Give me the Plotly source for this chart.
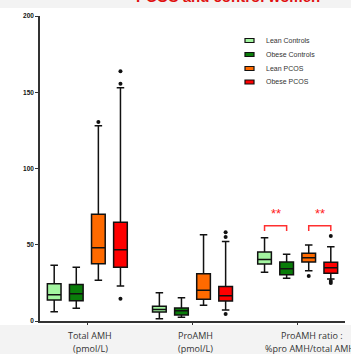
import plotly.graph_objects as go

# groups on the x axis
groups_top = ["Total AMH", "ProAMH", "ProAMH ratio :"]
groups_bottom = ["(pmol/L)", "(pmol/L)", "%pro AMH/total AMH"]

series = ["Lean Controls", "Obese Controls", "Lean PCOS", "Obese PCOS"]
colors = ["#a3f5a0", "#0a7d0a", "#ff6a00", "#ff0000"]

# box stats per series: one value per group (Total AMH, ProAMH, ratio)
lean_ctrl_q1 = [13.8, 5.9, 37.4]
lean_ctrl_med = [17.2, 7.5, 40.4]
lean_ctrl_q3 = [24.5, 9.6, 45.2]
lean_ctrl_lo = [6.1, 1.5, 31.9]
lean_ctrl_hi = [36.5, 18.6, 54.6]

obese_ctrl_q1 = [13.3, 3.9, 30.4]
obese_ctrl_med = [17.9, 6.8, 34.3]
obese_ctrl_q3 = [24.0, 8.5, 38.7]
obese_ctrl_lo = [8.3, 2.4, 28.0]
obese_ctrl_hi = [35.2, 15.3, 43.7]

lean_pcos_q1 = [37.6, 14.2, 38.7]
lean_pcos_med = [48.1, 20.1, 41.5]
lean_pcos_q3 = [70.0, 31.0, 44.4]
lean_pcos_lo = [26.7, 10.3, 33.0]
lean_pcos_hi = [128.1, 56.6, 49.8]

obese_pcos_q1 = [35.2, 13.1, 31.3]
obese_pcos_med = [46.8, 16.6, 35.0]
obese_pcos_q3 = [64.7, 22.7, 38.5]
obese_pcos_lo = [23.0, 7.2, 27.5]
obese_pcos_hi = [153.0, 52.2, 48.7]

# outliers: (group index, value)
lean_ctrl_out = []
obese_ctrl_out = []
lean_pcos_out = [(0, 130.5), (2, 29.5)]
obese_pcos_out = [(0, 155.6), (0, 163.7), (0, 14.6), (1, 55.1), (1, 58.2), (1, 4.6),
                  (2, 55.7), (2, 26.2), (2, 25.0)]

# significance marks in the ratio group (pairs of series)
sig_pairs = [(0, 1), (2, 3)]
sig_text = ["**", "**"]
sig_y = 62.5

stats = [
    (lean_ctrl_q1, lean_ctrl_med, lean_ctrl_q3, lean_ctrl_lo, lean_ctrl_hi, lean_ctrl_out),
    (obese_ctrl_q1, obese_ctrl_med, obese_ctrl_q3, obese_ctrl_lo, obese_ctrl_hi, obese_ctrl_out),
    (lean_pcos_q1, lean_pcos_med, lean_pcos_q3, lean_pcos_lo, lean_pcos_hi, lean_pcos_out),
    (obese_pcos_q1, obese_pcos_med, obese_pcos_q3, obese_pcos_lo, obese_pcos_hi, obese_pcos_out),
]

step = 0.21
def pos(g, s):
    return g + (s - 1.5) * step

fig = go.Figure()
for s, (q1, med, q3, lo, hi, out) in enumerate(stats):
    fig.add_trace(go.Box(
        x=[pos(g, s) for g in range(3)],
        q1=q1, median=med, q3=q3, lowerfence=lo, upperfence=hi,
        fillcolor=colors[s], line=dict(color="#111", width=1.5),
        width=0.13, whiskerwidth=0.55, name=series[s], showlegend=False,
        hoverinfo="skip",
    ))
    if out:
        fig.add_trace(go.Scatter(
            x=[pos(g, s) for g, v in out], y=[v for g, v in out],
            mode="markers", marker=dict(color="#111", size=4),
            showlegend=False, hoverinfo="skip",
        ))

shapes = []
annotations = []

# white panel over grey page
shapes.append(dict(type="rect", xref="paper", yref="paper", x0=-0.2, x1=1.1,
                   y0=-0.013, y1=1.026, fillcolor="white", line=dict(width=0),
                   layer="below"))

# significance brackets
for (a, b), t in zip(sig_pairs, sig_text):
    x0, x1 = pos(2, a), pos(2, b)
    shapes.append(dict(type="path", xref="x", yref="y",
                       path=f"M {x0},{sig_y - 3.5} L {x0},{sig_y} L {x1},{sig_y} L {x1},{sig_y - 3.5}",
                       line=dict(color="#ff3030", width=1.5)))
    annotations.append(dict(x=(x0 + x1) / 2, y=sig_y + 2, xref="x", yref="y", text=t,
                            showarrow=False, yanchor="bottom",
                            font=dict(color="#ff2020", size=13, family="Liberation Sans")))

# manual legend
leg_y = [40.5, 54.5, 68.5, 82.0]
for s, name in enumerate(series):
    yp = (321 - leg_y[s]) / 305
    shapes.append(dict(type="rect", xref="paper", yref="paper",
                       x0=(245 - 40) / 305, x1=(254 - 40) / 305,
                       y0=yp - 2 / 305, y1=yp + 2 / 305,
                       fillcolor=colors[s], line=dict(color="#111", width=1.2)))
    annotations.append(dict(x=(264 - 40) / 305, y=yp, xref="paper", yref="paper",
                            text=name, showarrow=False, xanchor="left", yanchor="middle",
                            font=dict(size=7, color="#333", family="Liberation Sans")))

# category labels
for g in range(3):
    shift = 14 if g == 2 else 3
    annotations.append(dict(x=g, y=(321 - 335) / 305, xref="x", yref="paper",
                            text=groups_top[g], showarrow=False, xshift=shift,
                            yanchor="middle", font=dict(size=9, color="#333", family="Open Sans")))
    annotations.append(dict(x=g, y=(321 - 348) / 305, xref="x", yref="paper",
                            text=groups_bottom[g], showarrow=False, xshift=shift if g < 2 else 12,
                            yanchor="middle", font=dict(size=9, color="#333", family="Open Sans")))

# clipped title at the very top
annotations.append(dict(x=(134 - 40) / 305, y=(321 + 3.5) / 305, xref="paper", yref="paper",
                        text="PCOS and control women", showarrow=False, yanchor="middle",
                        font=dict(size=15, color="#e01010", family="Liberation Sans", weight="bold")))

fig.update_layout(
    width=351, height=354,
    margin=dict(l=40, r=6, t=16, b=33),
    paper_bgcolor="#f3f3f3", plot_bgcolor="white",
    shapes=shapes, annotations=annotations,
    showlegend=False,
    xaxis=dict(range=[-0.45, 2.45], tickvals=[0, 1, 2], ticktext=["", "", ""],
               ticks="outside", ticklen=2, tickwidth=1, tickcolor="#333",
               showline=True, linecolor="#333", linewidth=1.5,
               showgrid=False, zeroline=False),
    yaxis=dict(range=[0, 200], tickvals=[0, 50, 100, 150, 200],
               ticks="outside", ticklen=3, tickwidth=1.2, tickcolor="#333",
               showline=True, linecolor="#333", linewidth=1.5,
               showgrid=False, zeroline=False,
               tickfont=dict(size=6.5, color="#111", family="Liberation Sans", weight="bold")),
)

# page body has a default margin; drop it so the figure sits at the window corner
fig.write_html("out.html", config={"displayModeBar": False},
               post_script="document.body.style.margin='0';")
